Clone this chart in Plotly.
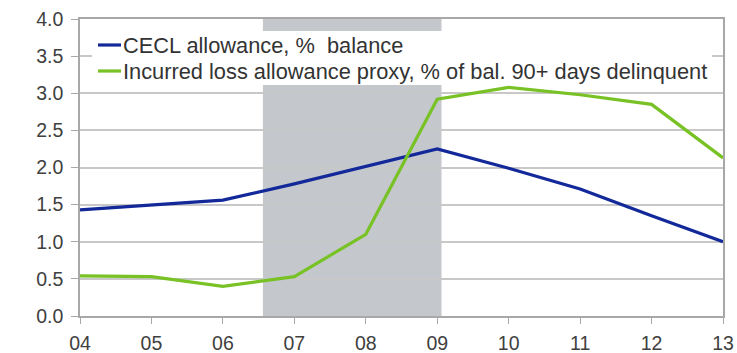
import plotly.graph_objects as go

years = [4, 5, 6, 7, 8, 9, 10, 11, 12, 13]
year_labels = ["04", "05", "06", "07", "08", "09", "10", "11", "12", "13"]
cecl = [1.43, 1.49, 1.56, 1.78, 2.01, 2.25, 1.99, 1.71, 1.35, 1.00]
incurred = [0.54, 0.53, 0.40, 0.53, 1.10, 2.92, 3.08, 2.98, 2.85, 2.13]
recession = [6.56, 9.06]
series_names = ["CECL allowance, %\u00a0 balance",
                "Incurred loss allowance proxy, % of bal. 90+ days delinquent"]
blue = "#13299a"
green = "#78c225"
grid = "#c8c8c8"
font = "Liberation Sans, Arial, sans-serif"

W, H = 737, 353
ML, MR, MT, MB = 80, 14, 19, 37
PW, PH = W - ML - MR, H - MT - MB


def px_x(x):
    return (x - ML) / PW


def px_y(y):
    return (H - MB - y) / PH


fig = go.Figure()
fig.add_trace(go.Scatter(x=years, y=cecl, mode="lines", line=dict(color=blue, width=3.2),
                         showlegend=False))
fig.add_trace(go.Scatter(x=years, y=incurred, mode="lines", line=dict(color=green, width=3.2),
                         showlegend=False))

# recession shading, beneath the gridlines
fig.add_shape(type="rect", xref="x", yref="y", x0=recession[0], x1=recession[1], y0=0, y1=4,
              fillcolor="#c4c8cc", line_width=0, layer="below")

# legend panel drawn by hand so the key lines stay short
fig.add_shape(type="rect", xref="paper", yref="paper", x0=px_x(92), x1=px_x(712),
              y0=px_y(85), y1=px_y(31), fillcolor="white", line_width=0, layer="above")
rows_y = [45, 71]
for name, color, ypx in zip(series_names, [blue, green], rows_y):
    fig.add_shape(type="line", xref="paper", yref="paper",
                  x0=px_x(98), x1=px_x(121), y0=px_y(ypx), y1=px_y(ypx),
                  line=dict(color=color, width=3.2), layer="above")
    fig.add_annotation(xref="paper", yref="paper", x=px_x(121), y=px_y(ypx), text=name,
                       showarrow=False, xanchor="left", yanchor="middle",
                       font=dict(family=font, size=21.8, color="#333333"))

fig.update_layout(
    width=W, height=H,
    margin=dict(l=ML, r=MR, t=MT, b=MB),
    paper_bgcolor="white", plot_bgcolor="white",
    font=dict(family=font, size=19.5, color="#404040"),
    xaxis=dict(range=[4, 13], tickvals=years, ticktext=year_labels, showgrid=False,
               showline=True, linecolor="#a8a8a8", linewidth=1.5, mirror=True,
               ticks="outside", ticklen=6, tickcolor="#a8a8a8", zeroline=False,
               automargin=False, ticklabelstandoff=3),
    yaxis=dict(range=[0, 4], dtick=0.5, tickformat=".1f", showgrid=True, gridcolor=grid,
               gridwidth=1.5, showline=True, linecolor="#a8a8a8", linewidth=1.5, mirror=True,
               ticks="outside", ticklen=7, tickcolor="#a8a8a8", zeroline=False,
               automargin=False, ticklabelstandoff=4),
)

fig.write_html("out.html")
